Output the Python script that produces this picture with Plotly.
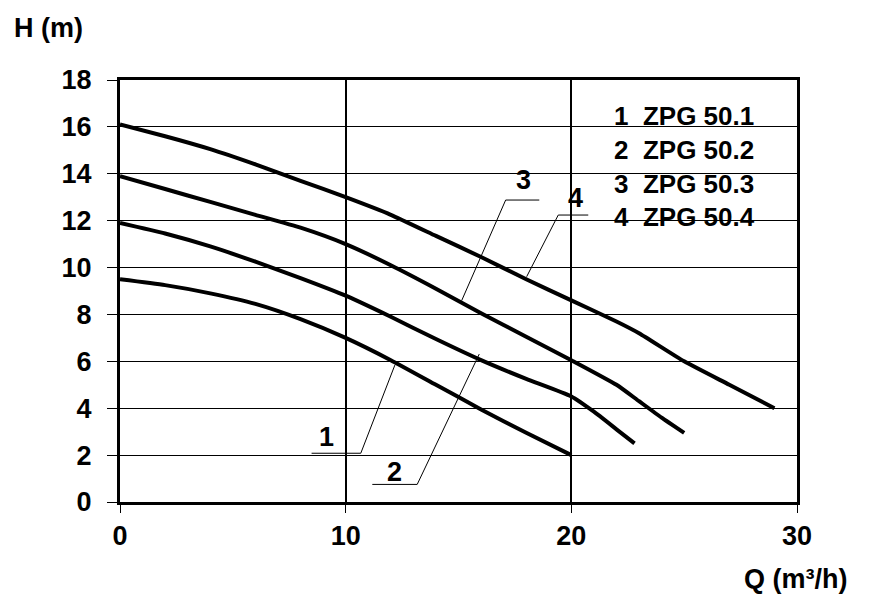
import plotly.graph_objects as go

# Pump curves H(Q)
q_1 = [0, 2, 4, 6, 8, 10, 12, 14, 16, 18, 20]
h_1 = [9.5, 9.25, 8.9, 8.45, 7.8, 7.0, 6.05, 5.0, 3.95, 2.95, 2.0]

q_2 = [0, 2, 4, 6, 8, 10, 12, 14, 16, 18, 20, 21, 22, 22.8]
h_2 = [11.9, 11.45, 10.9, 10.25, 9.55, 8.8, 7.9, 6.95, 6.05, 5.25, 4.5, 3.85, 3.1, 2.5]

q_3 = [0, 2, 4, 6, 8, 10, 12, 14, 16, 18, 20, 22, 23, 24, 25]
h_3 = [13.9, 13.35, 12.8, 12.25, 11.7, 11.0, 10.1, 9.1, 8.05, 7.05, 6.05, 5.0, 4.3, 3.6, 2.95]

q_4 = [0, 2, 4, 6, 8, 10, 12, 14, 16, 18, 20, 22, 23, 25, 27, 29]
h_4 = [16.1, 15.6, 15.05, 14.4, 13.7, 13.0, 12.25, 11.35, 10.45, 9.5, 8.6, 7.7, 7.2, 6.0, 5.0, 4.0]

curve_ids = ["1", "2", "3", "4"]
model_names = ["ZPG 50.1", "ZPG 50.2", "ZPG 50.3", "ZPG 50.4"]

# curve number labels and their leader lines
label_pos = [(9.16, 2.76), (12.18, 1.3), (17.87, 13.74), (20.19, 12.95)]
leader_q = [[8.49, 10.67, 12.18], [11.18, 13.17, 15.92], [18.58, 17.09, 15.14], [20.75, 19.42, 18.02]]
leader_h = [[2.08, 2.08, 5.84], [0.75, 0.75, 6.31], [12.88, 12.88, 8.59], [12.24, 12.24, 9.61]]

x_ticks = [0, 10, 20, 30]
y_ticks = [0, 2, 4, 6, 8, 10, 12, 14, 16, 18]

FONT = "Arial, Liberation Sans, sans-serif"
FS = 27

fig = go.Figure()

for qs, hs in zip(leader_q, leader_h):
    fig.add_trace(go.Scatter(x=qs, y=hs, mode="lines",
                             line=dict(color="black", width=1), hoverinfo="skip"))

for qs, hs in [(q_1, h_1), (q_2, h_2), (q_3, h_3), (q_4, h_4)]:
    fig.add_trace(go.Scatter(x=qs, y=hs, mode="lines",
                             line=dict(color="black", width=4, shape="spline", smoothing=0.5)))

# white patches hiding the grid behind the texts
for x0, x1, y0, y1 in [(21.71, 29.55, 11.3, 17.2), (17.35, 18.5, 13.35, 14.35),
                       (19.75, 20.65, 12.3, 13.75)]:
    fig.add_shape(type="rect", x0=x0, x1=x1, y0=y0, y1=y1, layer="below",
                  fillcolor="white", line=dict(width=0))

for cid, (lq, lh) in zip(curve_ids, label_pos):
    fig.add_annotation(x=lq, y=lh, text="<b>%s</b>" % cid, showarrow=False,
                       font=dict(family=FONT, size=FS, color="black"))

legend_text = "<br>".join("<b>%s  %s</b>" % (c, m) for c, m in zip(curve_ids, model_names))
fig.add_annotation(x=21.8, y=14.3, xanchor="left", yanchor="middle", text=legend_text,
                   showarrow=False, align="left",
                   font=dict(family=FONT, size=26, color="black"))

fig.add_annotation(xref="paper", yref="paper", x=-0.1595, y=1.123, xanchor="left",
                   yanchor="middle", text="<b>H (m)</b>", showarrow=False,
                   font=dict(family=FONT, size=FS, color="black"))
fig.add_annotation(xref="paper", yref="paper", x=0.919, y=-0.182, xanchor="left",
                   yanchor="middle", text="<b>Q (m³/h)</b>", showarrow=False,
                   font=dict(family=FONT, size=FS, color="black"))

# page body adds an 8px offset, so the figure is a bit smaller than the window
fig.update_layout(
    width=862, height=606,
    margin=dict(l=112, r=73, t=72, b=112),
    paper_bgcolor="white", plot_bgcolor="white",
    showlegend=False,
    font=dict(family=FONT, size=FS, color="black"),
)
fig.update_xaxes(range=[0, 30], tickvals=x_ticks, ticktext=["<b>%d</b>" % v for v in x_ticks],
                 showgrid=True, gridcolor="black", gridwidth=2,
                 showline=True, linecolor="black", linewidth=3, mirror=True,
                 ticks="outside", ticklen=8, tickwidth=1, tickcolor="black",
                 zeroline=False, tickfont=dict(size=FS))
fig.update_yaxes(range=[0, 18], tickvals=y_ticks, ticktext=["<b>%d</b>" % v for v in y_ticks],
                 showgrid=True, gridcolor="black", gridwidth=1,
                 showline=True, linecolor="black", linewidth=3, mirror=True,
                 ticks="outside", ticklen=10, tickwidth=1, tickcolor="black",
                 ticklabelstandoff=10,
                 zeroline=False, tickfont=dict(size=FS))

fig.write_html("out.html")
